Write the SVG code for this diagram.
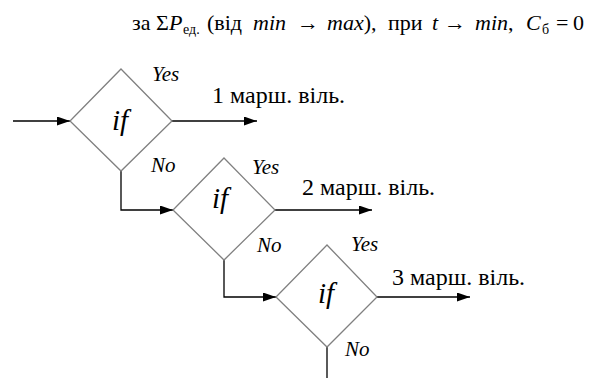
<svg xmlns="http://www.w3.org/2000/svg" width="590" height="378" viewBox="0 0 590 378">
<style>
text{font-family:"Liberation Serif","Times New Roman",serif;fill:#000}
.t{font-size:22px}
.it{font-style:italic}
.sub{font-size:14px}
.lab{font-size:24px}
.yn{font-size:21px;font-style:italic}
.if{font-size:29px;font-style:italic}
.dia{fill:#fff;stroke:#808080;stroke-width:1.3}
.con{fill:none;stroke:#000;stroke-width:1.3}
</style>
<defs>
<marker id="ah" markerWidth="13" markerHeight="9" refX="13" refY="4.5" orient="auto" markerUnits="userSpaceOnUse">
<path d="M0,0 L13,4.5 L0,9 z" fill="#000"/>
</marker>
</defs>
<text class="t" y="30"><tspan x="132">за</tspan><tspan x="156">Σ</tspan><tspan class="it" x="169">P</tspan><tspan class="sub" x="183" dy="4">ед.</tspan><tspan x="207" dy="-4">(від</tspan><tspan class="it" x="253">min</tspan><tspan x="297">→</tspan><tspan class="it" x="327">max</tspan><tspan>),</tspan><tspan x="388">при</tspan><tspan class="it" x="432">t</tspan><tspan x="444">→</tspan><tspan class="it" x="475">min</tspan><tspan>,</tspan><tspan class="it" x="526">C</tspan><tspan class="sub" x="542" dy="4">б</tspan><tspan x="556" dy="-4">=</tspan><tspan x="573">0</tspan></text>
<g id="connectors">
<line class="con" x1="13" y1="121" x2="70" y2="121" marker-end="url(#ah)"/>
<line class="con" x1="172" y1="121" x2="257" y2="121" marker-end="url(#ah)"/>
<polyline class="con" points="121,171 121,210 173,210" marker-end="url(#ah)"/>
<line class="con" x1="275" y1="210" x2="372" y2="210" marker-end="url(#ah)"/>
<polyline class="con" points="224,260 224,297 276,297" marker-end="url(#ah)"/>
<line class="con" x1="377" y1="297" x2="470" y2="297" marker-end="url(#ah)"/>
<line class="con" x1="327" y1="347" x2="327" y2="378"/>
</g>
<g id="node1">
<polygon class="dia" points="121,69 172,121 121,171 70,121"/>
<text class="if" x="112" y="130">if</text>
<text class="yn" x="152" y="81">Yes</text>
<text class="yn" x="151" y="172">No</text>
<text class="lab" x="212" y="103">1 марш. віль.</text>
</g>
<g id="node2">
<polygon class="dia" points="224,158 275,210 224,260 173,210"/>
<text class="if" x="212" y="208">if</text>
<text class="yn" x="252" y="174">Yes</text>
<text class="yn" x="257" y="252">No</text>
<text class="lab" x="302" y="195">2 марш. віль.</text>
</g>
<g id="node3">
<polygon class="dia" points="327,245 377,297 327,347 276,297"/>
<text class="if" x="318" y="303">if</text>
<text class="yn" x="351" y="251">Yes</text>
<text class="yn" x="345" y="356">No</text>
<text class="lab" x="392" y="285">3 марш. віль.</text>
</g>
</svg>
